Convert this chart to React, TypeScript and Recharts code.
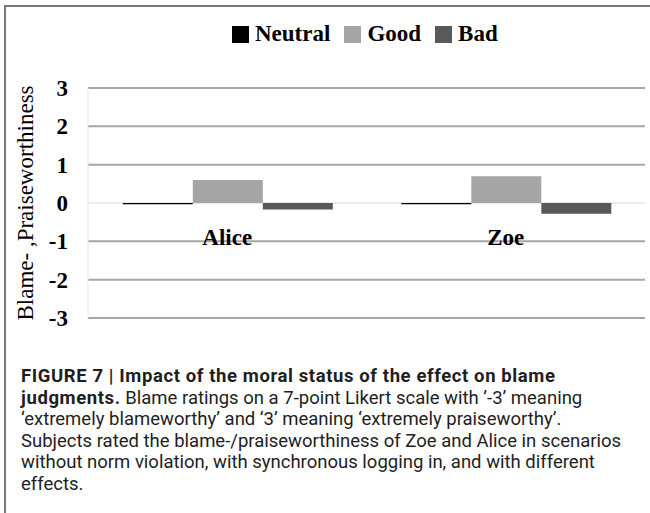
import { BarChart, Bar, XAxis, YAxis, CartesianGrid, Legend, ReferenceDot } from "recharts";

const categories = ["Alice", "Zoe"];
const seriesNames = ["Neutral", "Good", "Bad"];
const neutral = [-0.03, -0.03];
const good = [0.6, 0.7];
const bad = [-0.17, -0.28];
const yTicks = [-3, -2, -1, 0, 1, 2, 3];

const data = categories.map((name, i) => ({
     name,
     Neutral: neutral[i],
     Good: good[i],
     Bad: bad[i],
}));

const COLORS: Record<string, string> = { Neutral: "#000000", Good: "#a5a5a5", Bad: "#595959" };
const SERIF = "'Liberation Serif', 'Times New Roman', serif";

const captionLines = [
     "Blame ratings on a 7-point Likert scale with \u2019-3\u2019 meaning",
     "\u2018extremely blameworthy\u2019 and \u20183\u2019 meaning \u2018extremely praiseworthy\u2019.",
     "Subjects rated the blame-/praiseworthiness of Zoe and Alice in scenarios",
     "without norm violation, with synchronous logging in, and with different",
     "effects.",
];

function LegendContent() {
     return (
          <div style={{ display: "flex", alignItems: "center", fontFamily: SERIF, fontWeight: "bold", fontSize: 23 }}>
               {seriesNames.map((s, i) => (
                    <div key={s} style={{ display: "flex", alignItems: "center", marginLeft: i ? 14 : 0 }}>
                         <span style={{ width: 17, height: 17, background: COLORS[s], display: "inline-block", marginRight: 6 }} />
                         <span>{s}</span>
                    </div>
               ))}
          </div>
     );
}

function gridLine(p: any) {
     return (
          <line
               key={p.key}
               x1={p.x1}
               x2={p.x2}
               y1={p.y1}
               y2={p.y2}
               stroke={p.index === 3 ? "#ececec" : "#a6a6a6"}
               strokeWidth={2}
          />
     );
}

const boldSpan = { fontWeight: "bold" as const, letterSpacing: 0.6 };

export default function App() {
     return (
          <div style={{ position: "absolute", left: 0, top: 0, width: 650, height: 513, background: "#fff", overflow: "hidden" }}>
               <div style={{ position: "absolute", left: 0, top: 0 }}>
                    <BarChart width={650} height={335} data={data} margin={{ top: 62, right: 5, left: 0, bottom: 17 }} barCategoryGap="12.5%" barGap={0}>
                         <CartesianGrid vertical={false} horizontal={gridLine} />
                         <XAxis dataKey="name" hide />
                         <YAxis
                              domain={[-3, 3]}
                              ticks={yTicks}
                              width={88}
                              axisLine={{ stroke: "#e6e6e6" }}
                              tickLine={false}
                              tick={{ fill: "#000", fontFamily: SERIF, fontWeight: "bold", fontSize: 23 }}
                              tickMargin={14}
                              label={{
                                   value: "Blame- ,Praiseworthiness",
                                   angle: -90,
                                   position: "insideLeft",
                                   dx: 20,
                                   style: { textAnchor: "middle", fontFamily: SERIF, fontSize: 23, fill: "#000" },
                              }}
                         />
                         <Legend verticalAlign="top" content={LegendContent} wrapperStyle={{ top: 21, left: 232, width: "auto" }} />
                         <Bar dataKey="Neutral" fill={COLORS.Neutral} isAnimationActive={false} />
                         <Bar dataKey="Good" fill={COLORS.Good} isAnimationActive={false} />
                         <Bar dataKey="Bad" fill={COLORS.Bad} isAnimationActive={false} />
                         {categories.map((c) => (
                              <ReferenceDot
                                   key={c}
                                   x={c}
                                   y={-0.88}
                                   r={0}
                                   fill="none"
                                   stroke="none"
                                   ifOverflow="visible"
                                   label={{ value: c, position: "center", fill: "#000", fontFamily: SERIF, fontWeight: "bold", fontSize: 23 }}
                              />
                         ))}
                    </BarChart>
               </div>
               <div
                    style={{
                         position: "absolute",
                         left: 21,
                         top: 366,
                         fontFamily: "Roboto, 'Liberation Sans', sans-serif",
                         fontSize: 18.5,
                         lineHeight: "21.6px",
                         color: "#1e1e1e",
                         whiteSpace: "nowrap",
                    }}
               >
                    <div style={boldSpan}>FIGURE 7 | Impact of the moral status of the effect on blame</div>
                    <div>
                         <span style={boldSpan}>judgments.</span> {captionLines[0]}
                    </div>
                    {captionLines.slice(1).map((l) => (
                         <div key={l}>{l}</div>
                    ))}
               </div>
               <div style={{ position: "absolute", left: 4, top: 5, width: 646, height: 2, background: "#777" }} />
               <div style={{ position: "absolute", left: 4, top: 5, width: 2, height: 508, background: "#777" }} />
          </div>
     );
}
